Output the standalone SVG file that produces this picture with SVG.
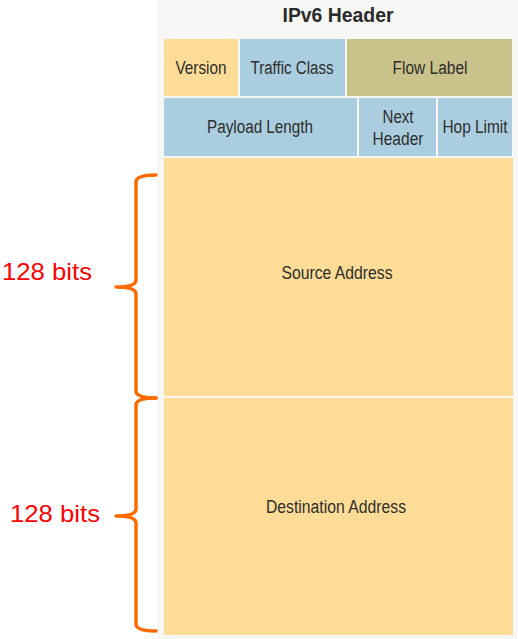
<svg xmlns="http://www.w3.org/2000/svg" width="518" height="639" viewBox="0 0 518 639">
<style>
.lbl{font-family:"Liberation Sans",Arial,sans-serif;font-size:18px;fill:#2e2e2a;text-anchor:middle}
.ttl{font-family:"Liberation Sans",Arial,sans-serif;font-size:20px;font-weight:bold;fill:#2a2a2a;text-anchor:middle}
.bits{font-family:"Liberation Sans",Arial,sans-serif;font-size:24px;fill:#ff0000}
.y{fill:#fddc98}
.b{fill:#aacde0}
.o{fill:#c9c28b}
.brace{fill:none;stroke:#ff6a00;stroke-width:3.5;stroke-linecap:round;stroke-linejoin:round}
</style>
<rect x="0" y="0" width="518" height="639" fill="#ffffff"/>
<rect x="157" y="0" width="361" height="639" fill="#f7f7f5"/>
<g id="title"><text class="ttl" x="338" y="22" textLength="111" lengthAdjust="spacingAndGlyphs">IPv6 Header</text></g>
<g id="version"><rect class="y" x="164" y="39" width="74" height="57"/><text class="lbl" x="201" y="74" textLength="51" lengthAdjust="spacingAndGlyphs">Version</text></g>
<g id="traffic-class"><rect class="b" x="240" y="39" width="105" height="57"/><text class="lbl" x="292" y="74" textLength="83" lengthAdjust="spacingAndGlyphs">Traffic Class</text></g>
<g id="flow-label"><rect class="o" x="347" y="39" width="165" height="57"/><text class="lbl" x="430" y="74" textLength="75" lengthAdjust="spacingAndGlyphs">Flow Label</text></g>
<g id="payload-length"><rect class="b" x="164" y="98" width="193" height="58"/><text class="lbl" x="260" y="133" textLength="106" lengthAdjust="spacingAndGlyphs">Payload Length</text></g>
<g id="next-header"><rect class="b" x="359" y="98" width="77" height="58"/><text class="lbl" x="398" y="123" textLength="31" lengthAdjust="spacingAndGlyphs">Next</text><text class="lbl" x="398" y="145" textLength="51" lengthAdjust="spacingAndGlyphs">Header</text></g>
<g id="hop-limit"><rect class="b" x="438" y="98" width="74" height="58"/><text class="lbl" x="475" y="133" textLength="65" lengthAdjust="spacingAndGlyphs">Hop Limit</text></g>
<g id="source-address"><rect class="y" x="164" y="158" width="349" height="238"/><text class="lbl" x="337" y="279" textLength="111" lengthAdjust="spacingAndGlyphs">Source Address</text></g>
<g id="destination-address"><rect class="y" x="164" y="398" width="349" height="237"/><text class="lbl" x="336" y="513" textLength="140" lengthAdjust="spacingAndGlyphs">Destination Address</text></g>
<g id="connectors">
<path class="brace" d="M156,175 Q136,175 136,182 L136,280 Q136,287 116,287 Q136,287 136,294 L136,391 Q136,398 156,398"/>
<path class="brace" d="M156,398 Q136,398 136,405 L136,509 Q136,516 116,516 Q136,516 136,523 L136,624 Q136,631 156,631"/>
</g>
<g id="labels">
<text class="bits" x="2" y="280" textLength="90" lengthAdjust="spacingAndGlyphs">128 bits</text>
<text class="bits" x="10" y="522" textLength="90" lengthAdjust="spacingAndGlyphs">128 bits</text>
</g>
</svg>
